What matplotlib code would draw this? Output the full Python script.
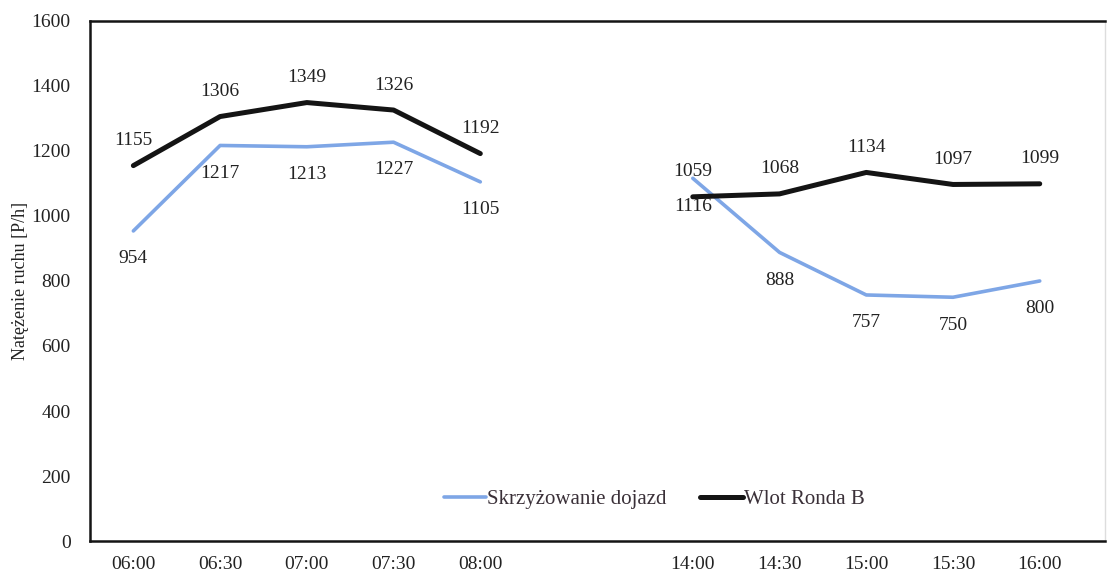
import matplotlib.pyplot as plt
import numpy as np

plt.rcParams['font.family'] = ['Liberation Serif', 'DejaVu Serif']

# morning and afternoon counts, hourly flow in vehicles per hour
am_times = ['06:00', '06:30', '07:00', '07:30', '08:00']
pm_times = ['14:00', '14:30', '15:00', '15:30', '16:00']
dojazd_am = [954, 1217, 1213, 1227, 1105]
dojazd_pm = [1116, 888, 757, 750, 800]
ronda_am = [1155, 1306, 1349, 1326, 1192]
ronda_pm = [1059, 1068, 1134, 1097, 1099]

blue = '#7ea6e6'
dark = '#141414'
txt = '#222222'

x_am = np.arange(len(am_times))
x_pm = np.arange(len(pm_times)) + 6.45

fig = plt.figure(figsize=(11.07, 5.78), dpi=100)
ax = fig.add_axes([0.0813, 0.064, 0.9167, 0.8997])

ax.plot(x_am, dojazd_am, color=blue, lw=2.6, label='Skrzyżowanie dojazd', solid_capstyle='round')
ax.plot(x_pm, dojazd_pm, color=blue, lw=2.6, solid_capstyle='round')
ax.plot(x_am, ronda_am, color=dark, lw=3.6, label='Wlot Ronda B', solid_capstyle='round')
ax.plot(x_pm, ronda_pm, color=dark, lw=3.6, solid_capstyle='round')

# value labels: black series above, blue series below
for xs, vals in [(x_am, ronda_am), (x_pm, ronda_pm)]:
    for x, v in zip(xs, vals):
        ax.annotate(str(v), (x, v), xytext=(0, 18), textcoords='offset points',
                    ha='center', va='center', fontsize=14, color=txt)
for xs, vals in [(x_am, dojazd_am), (x_pm, dojazd_pm)]:
    for x, v in zip(xs, vals):
        ax.annotate(str(v), (x, v), xytext=(0, -20), textcoords='offset points',
                    ha='center', va='center', fontsize=14, color=txt)

ax.set_ylim(0, 1600)
ax.set_yticks(range(0, 1601, 200))
ax.set_xlim(-0.5, 11.2)
ax.set_xticks(list(x_am) + list(x_pm))
ax.set_xticklabels(am_times + pm_times)
ax.tick_params(axis='both', length=0, labelsize=14, colors=txt)
ax.tick_params(axis='y', pad=14)
ax.tick_params(axis='x', pad=11)
ax.set_ylabel('Natężenie ruchu [P/h]', fontsize=13, color=txt, labelpad=2)

for side in ['left', 'bottom', 'top']:
    ax.spines[side].set_linewidth(1.8)
    ax.spines[side].set_color(dark)
ax.spines['right'].set_linewidth(1.0)
ax.spines['right'].set_color('#dddddd')

leg = ax.legend(loc='lower center', bbox_to_anchor=(0.556, 0.025), ncol=2, frameon=False,
                fontsize=15, handlelength=2.05, handletextpad=0.05, columnspacing=1.6,
                labelcolor='#3a3038')

fig.savefig('out.png', dpi=100)
